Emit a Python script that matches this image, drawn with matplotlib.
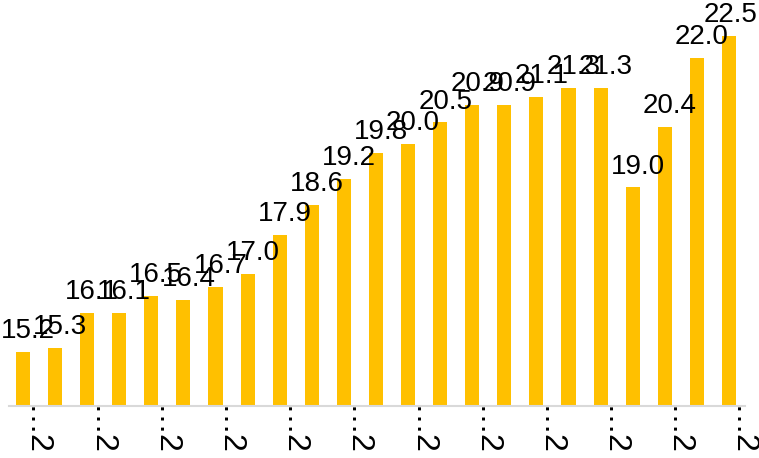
import matplotlib
matplotlib.use("Agg")
import matplotlib.pyplot as plt
import numpy as np

plt.rcParams['font.family'] = ['Liberation Sans', 'DejaVu Sans']

# values
values = [15.2, 15.3, 16.1, 16.1, 16.5, 16.4, 16.7, 17.0, 17.9, 18.6, 19.2, 19.8,
          20.0, 20.5, 20.9, 20.9, 21.1, 21.3, 21.3, 19.0, 20.4, 22.0, 22.5]
# category labels are truncated in the original, only "2…" is visible
tick_labels = ['\u20262'] * 12

bar_color = '#FFC000'

fig = plt.figure(figsize=(7.59, 4.58), dpi=100)
ax = fig.add_axes([9 / 759, (458 - 406) / 458, (745 - 9) / 759, 406 / 458])

x = np.arange(len(values))
ax.bar(x, values, width=0.44, color=bar_color, zorder=2)

for xi, v in zip(x, values):
    # last label is pushed back inside the figure edge
    dx = 3.6 if xi < len(values) - 1 else 1.0
    ax.annotate(f'{v:.1f}', (xi, v), xytext=(dx, 10), textcoords='offset points',
                ha='center', va='baseline', fontsize=20, color='black')

ax.set_ylim(13.95, 23.33)
ax.set_xlim(-0.436, 22.5)

ax.set_xticks(x[::2] - 0.09)
ax.set_xticklabels(tick_labels, rotation=-90, ha='left', va='top', fontsize=23)
ax.tick_params(axis='x', length=0, pad=0)
ax.set_yticks([])

for s in ['top', 'left', 'right']:
    ax.spines[s].set_visible(False)
ax.spines['bottom'].set_color('#D9D9D9')
ax.spines['bottom'].set_linewidth(1.5)

fig.savefig('out.png', dpi=100)
